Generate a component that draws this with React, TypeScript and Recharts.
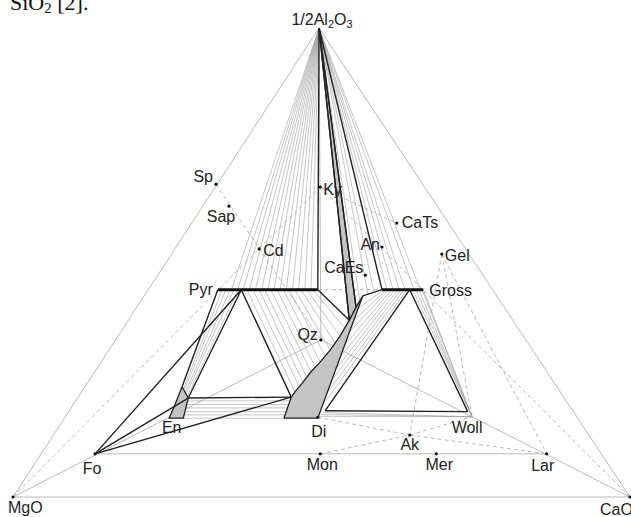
import React from 'react'
import { ScatterChart, Scatter, XAxis, YAxis } from 'recharts'

type XY = [number, number]

// plot coordinates: x runs along the MgO–CaO base (0–100), y is the height towards 1/2Al2O3 (0–100)
const NODES: Record<string, XY> = {
  MgO: [0, 0], CaO: [100, 0], Al: [49.6, 100],
  Sp: [32.9, 66.7], Sap: [35.0, 62.0], Cd: [39.9, 52.9], Ky: [49.8, 66.1],
  CaTs: [62.2, 58.4], An: [59.8, 53.3], Gel: [69.5, 51.8], CaEs: [57.1, 47.3],
  Qz: [49.9, 33.5], Di: [49.4, 17.0], Woll: [74.4, 17.1], Ak: [64.3, 13.2],
  Mon: [49.8, 9.2], Mer: [68.6, 9.2], Lar: [86.5, 9.2], Fo: [13.3, 9.2], En: [25.4, 17.0],
  Pyr: [33.2, 44.2], PyrEnd: [49.4, 44.2], PyrEn: [37.0, 44.2],
  Gross: [66.5, 44.2], GrossL: [59.8, 44.2], GrossW: [64.3, 44.2],
  EnTop: [27.4, 23.5], EnR: [28.4, 21.1], EnBR: [27.6, 16.8], EnBL: [25.3, 16.8], EnL: [26.1, 19.2],
  DiTL: [45.1, 21.3], DiBL: [43.9, 16.8], DiBR: [49.4, 16.8], DiTip: [56.7, 42.9], DiKnee: [54.5, 37.7],
  DiNeck: [55.6, 40.5], GrBL: [50.6, 18.4], GrBR: [73.7, 18.2],
}

const greyJoins = [
  ['MgO', 'Al'], ['Al', 'CaO'], ['MgO', 'CaO'], ['Fo', 'Lar'],
  ['MgO', 'Qz'], ['Qz', 'CaO'], ['Al', 'Qz'], ['Gross', 'Woll'],
]

const dashedJoins = [
  ['Sp', 'Qz'], ['MgO', 'Ky'], ['Ky', 'CaO'], ['Ky', 'CaTs'], ['PyrEnd', 'GrossL'],
  ['Gel', 'Woll'], ['Gel', 'Lar'], ['Gel', 'Ak'], ['Di', 'Ak'], ['Ak', 'Lar'],
  ['Mon', 'Ak'], ['Ak', 'Woll'],
]

const fieldBoundaries = [
  ['Al', 'PyrEnd'], ['Al', 'DiKnee'], ['Al', 'DiNeck'], ['Al', 'GrossL'],
  ['PyrEnd', 'DiKnee'], ['PyrEn', 'DiTL'], ['PyrEn', 'EnR'], ['Pyr', 'EnTop'],
  ['Fo', 'PyrEn'], ['Fo', 'EnR'], ['Fo', 'DiTL'], ['EnR', 'DiTL'],
  ['DiTip', 'GrossL'], ['GrossW', 'GrBR'], ['GrossW', 'GrBL'], ['GrBL', 'GrBR'],
]

const garnetJoins = [['Pyr', 'PyrEnd'], ['GrossL', 'Gross']]

// tie lines from the apex to the garnet joins and the pyroxene field
const apexTieEnds: XY[] = [
  [35.4, 44.2], [36.4, 44.2], [37.3, 44.2], [38.3, 44.2], [39.3, 44.2], [40.3, 44.2],
  [41.3, 44.2], [42.3, 44.2], [43.3, 44.2], [44.3, 44.2], [45.3, 44.2],
  [46.3, 44.2], [47.3, 44.2], [48.3, 44.2],
  [56.2, 41.7], [57.5, 43.3], [58.5, 43.7],
  [60.6, 44.2], [61.6, 44.2], [62.6, 44.2], [63.5, 44.2], [65.0, 44.2], [66.0, 44.2],
]

// garnet – pyroxene tie lines [x1, y1, x2, y2]
const pyrDiTies = [
  [37.9, 44.2, 45.7, 22.4], [38.9, 44.2, 46.4, 23.5], [39.9, 44.2, 47.0, 24.5],
  [40.8, 44.2, 47.6, 25.6], [41.8, 44.2, 48.3, 26.7], [42.8, 44.2, 49.0, 27.7],
  [43.8, 44.2, 49.8, 28.8], [44.7, 44.2, 50.6, 30.1], [45.7, 44.2, 51.4, 31.3],
  [46.7, 44.2, 52.2, 32.8], [47.6, 44.2, 53.0, 34.3], [48.6, 44.2, 53.8, 36.0],
]
const enStripTies = [
  [33.9, 44.2, 27.6, 23.0], [34.5, 44.2, 27.7, 22.6], [35.2, 44.2, 27.9, 22.2],
  [35.8, 44.2, 28.0, 21.8], [36.5, 44.2, 28.2, 21.3],
]
const diGrossTies = [
  [50.2, 19.6, 63.9, 44.2], [50.9, 22.2, 63.4, 44.2], [51.6, 24.8, 62.9, 44.2],
  [52.4, 27.4, 62.4, 44.2], [53.1, 30.0, 61.9, 44.2], [53.8, 32.5, 61.4, 44.2],
  [54.5, 35.1, 60.9, 44.2], [55.3, 37.7, 60.5, 44.2], [56.0, 40.3, 60.1, 44.2],
]
const grossWollTies = [
  [64.8, 44.2, 74.4, 17.1], [65.3, 44.2, 74.4, 17.1], [65.8, 44.2, 74.4, 17.1], [66.3, 44.2, 74.4, 17.1],
  [50.2, 18.0, 74.4, 17.1], [49.9, 17.6, 74.4, 17.1], [49.6, 17.2, 74.4, 17.1],
]
const enDiTies = [
  [28.2, 20.5, 44.8, 20.5], [28.1, 19.7, 44.7, 19.7], [28.0, 19.0, 44.5, 19.0],
  [27.8, 18.2, 44.3, 18.2], [27.7, 17.5, 44.1, 17.5], [27.6, 16.8, 43.9, 16.8],
]

const enField = ['EnTop', 'EnR', 'EnBR', 'EnBL', 'EnL', 'EnTop']
const diField: (string | XY)[] = [
  'DiBL', 'DiTL', [45.7, 22.4], [47.0, 24.5], [48.3, 26.7], [49.8, 28.8], [51.4, 31.3],
  [53.0, 34.3], 'DiKnee', 'DiNeck', 'DiTip', 'DiBR', 'DiBL',
]
const apexWedge = ['Al', 'DiKnee', 'DiNeck', 'Al']

const dotted = ['Sp', 'Sap', 'Cd', 'Ky', 'CaTs', 'An', 'Gel', 'CaEs', 'Qz', 'Di', 'Ak', 'Mon', 'Mer', 'Lar', 'Fo', 'MgO', 'CaO']
const labelled = [...dotted, 'En', 'Woll', 'Pyr', 'Gross', 'Al']

const LABEL_POS: Record<string, { dx: number; dy: number; a: 'start' | 'middle' | 'end' }> = {
  Sp: { dx: -3, dy: -2, a: 'end' }, Sap: { dx: -8, dy: 16, a: 'middle' }, Cd: { dx: 4, dy: 7, a: 'start' },
  Ky: { dx: 3, dy: 8, a: 'start' }, CaTs: { dx: 5, dy: 5, a: 'start' }, An: { dx: -2, dy: 3, a: 'end' },
  Gel: { dx: 3, dy: 7, a: 'start' }, CaEs: { dx: -2, dy: -2, a: 'end' }, Qz: { dx: -3, dy: 0, a: 'end' },
  Di: { dx: 1, dy: 20, a: 'middle' }, Ak: { dx: 0, dy: 15, a: 'middle' }, Mon: { dx: 2, dy: 16, a: 'middle' },
  Mer: { dx: 3, dy: 16, a: 'middle' }, Lar: { dx: -4, dy: 17, a: 'middle' }, Fo: { dx: -3, dy: 20, a: 'middle' },
  MgO: { dx: -5, dy: 16, a: 'start' }, CaO: { dx: -30, dy: 18, a: 'start' }, En: { dx: 2, dy: 16, a: 'middle' },
  Woll: { dx: -5, dy: 16, a: 'middle' }, Pyr: { dx: -5, dy: 5, a: 'end' }, Gross: { dx: 6, dy: 6, a: 'start' },
  Al: { dx: 3, dy: -3, a: 'middle' },
}

const P = (k: string | XY) => {
  const [x, y] = typeof k === 'string' ? NODES[k] : k
  return { x, y }
}

const Nothing = () => <g />

const thin = { stroke: '#a8a8a8', strokeWidth: 0.8 }
const hatch = { stroke: '#a0a0a0', strokeWidth: 0.6 }
const dash = { stroke: '#a8a8a8', strokeWidth: 0.8, strokeDasharray: '4 3' }
const black = { stroke: '#222', strokeWidth: 1.4 }
const heavy = { stroke: '#111', strokeWidth: 3 }
const shaded = { fill: '#c4c4c4', stroke: '#222', strokeWidth: 1.3 }

const Label = (props: any) => {
  const { cx, cy, payload } = props
  const pos = LABEL_POS[payload.name]
  const font = { fontFamily: '"Liberation Sans", Arial, sans-serif', fontSize: 16, fill: '#222' }
  return (
    <g>
      {dotted.includes(payload.name) && <circle cx={cx} cy={cy} r={1.6} fill="#111" />}
      <text x={cx + pos.dx} y={cy + pos.dy} textAnchor={pos.a} {...font}>
        {payload.name === 'Al' ? (
          <>
            1/2Al<tspan fontSize={11} dy={3}>2</tspan><tspan dy={-3}>O</tspan><tspan fontSize={11} dy={3}>3</tspan>
          </>
        ) : payload.name}
      </text>
    </g>
  )
}

export default function App() {
  let n = 0
  const line = (pts: { x: number; y: number }[], style: object) => (
    <Scatter key={n++} data={pts} line={style} shape={Nothing} isAnimationActive={false} />
  )
  const ties = (rows: number[][]) => rows.map(r => line([{ x: r[0], y: r[1] }, { x: r[2], y: r[3] }], hatch))

  return (
    <div style={{ position: 'absolute', left: 0, top: 0, width: 631, height: 517, background: '#fff', overflow: 'hidden' }}>
      <svg width={200} height={20} style={{ position: 'absolute', left: 0, top: 0 }}>
        <text x={10} y={10} fontFamily='"Liberation Serif", "Times New Roman", serif' fontSize={22} fill="#111">
          SiO<tspan fontSize={15} dy={3}>2</tspan><tspan dy={-3}> [2].</tspan>
        </text>
      </svg>
      <ScatterChart width={631} height={517} margin={{ top: 28, right: 1, bottom: 20, left: 13 }}
        style={{ position: 'absolute', left: 0, top: 0 }}>
        <XAxis type="number" dataKey="x" domain={[0, 100]} hide />
        <YAxis type="number" dataKey="y" domain={[0, 100]} hide />
        {greyJoins.map(([a, b]) => line([P(a), P(b)], thin))}
        {dashedJoins.map(([a, b]) => line([P(a), P(b)], dash))}
        {apexTieEnds.map(e => line([P('Al'), P(e)], hatch))}
        {ties(pyrDiTies)}
        {ties(enStripTies)}
        {ties(diGrossTies)}
        {ties(grossWollTies)}
        {ties(enDiTies)}
        {line(enField.map(P), shaded)}
        {line(diField.map(P), shaded)}
        {line(apexWedge.map(P), shaded)}
        {fieldBoundaries.map(([a, b]) => line([P(a), P(b)], black))}
        {garnetJoins.map(([a, b]) => line([P(a), P(b)], heavy))}
        <Scatter data={labelled.map(name => ({ name, ...P(name) }))} shape={Label} isAnimationActive={false} />
      </ScatterChart>
    </div>
  )
}
